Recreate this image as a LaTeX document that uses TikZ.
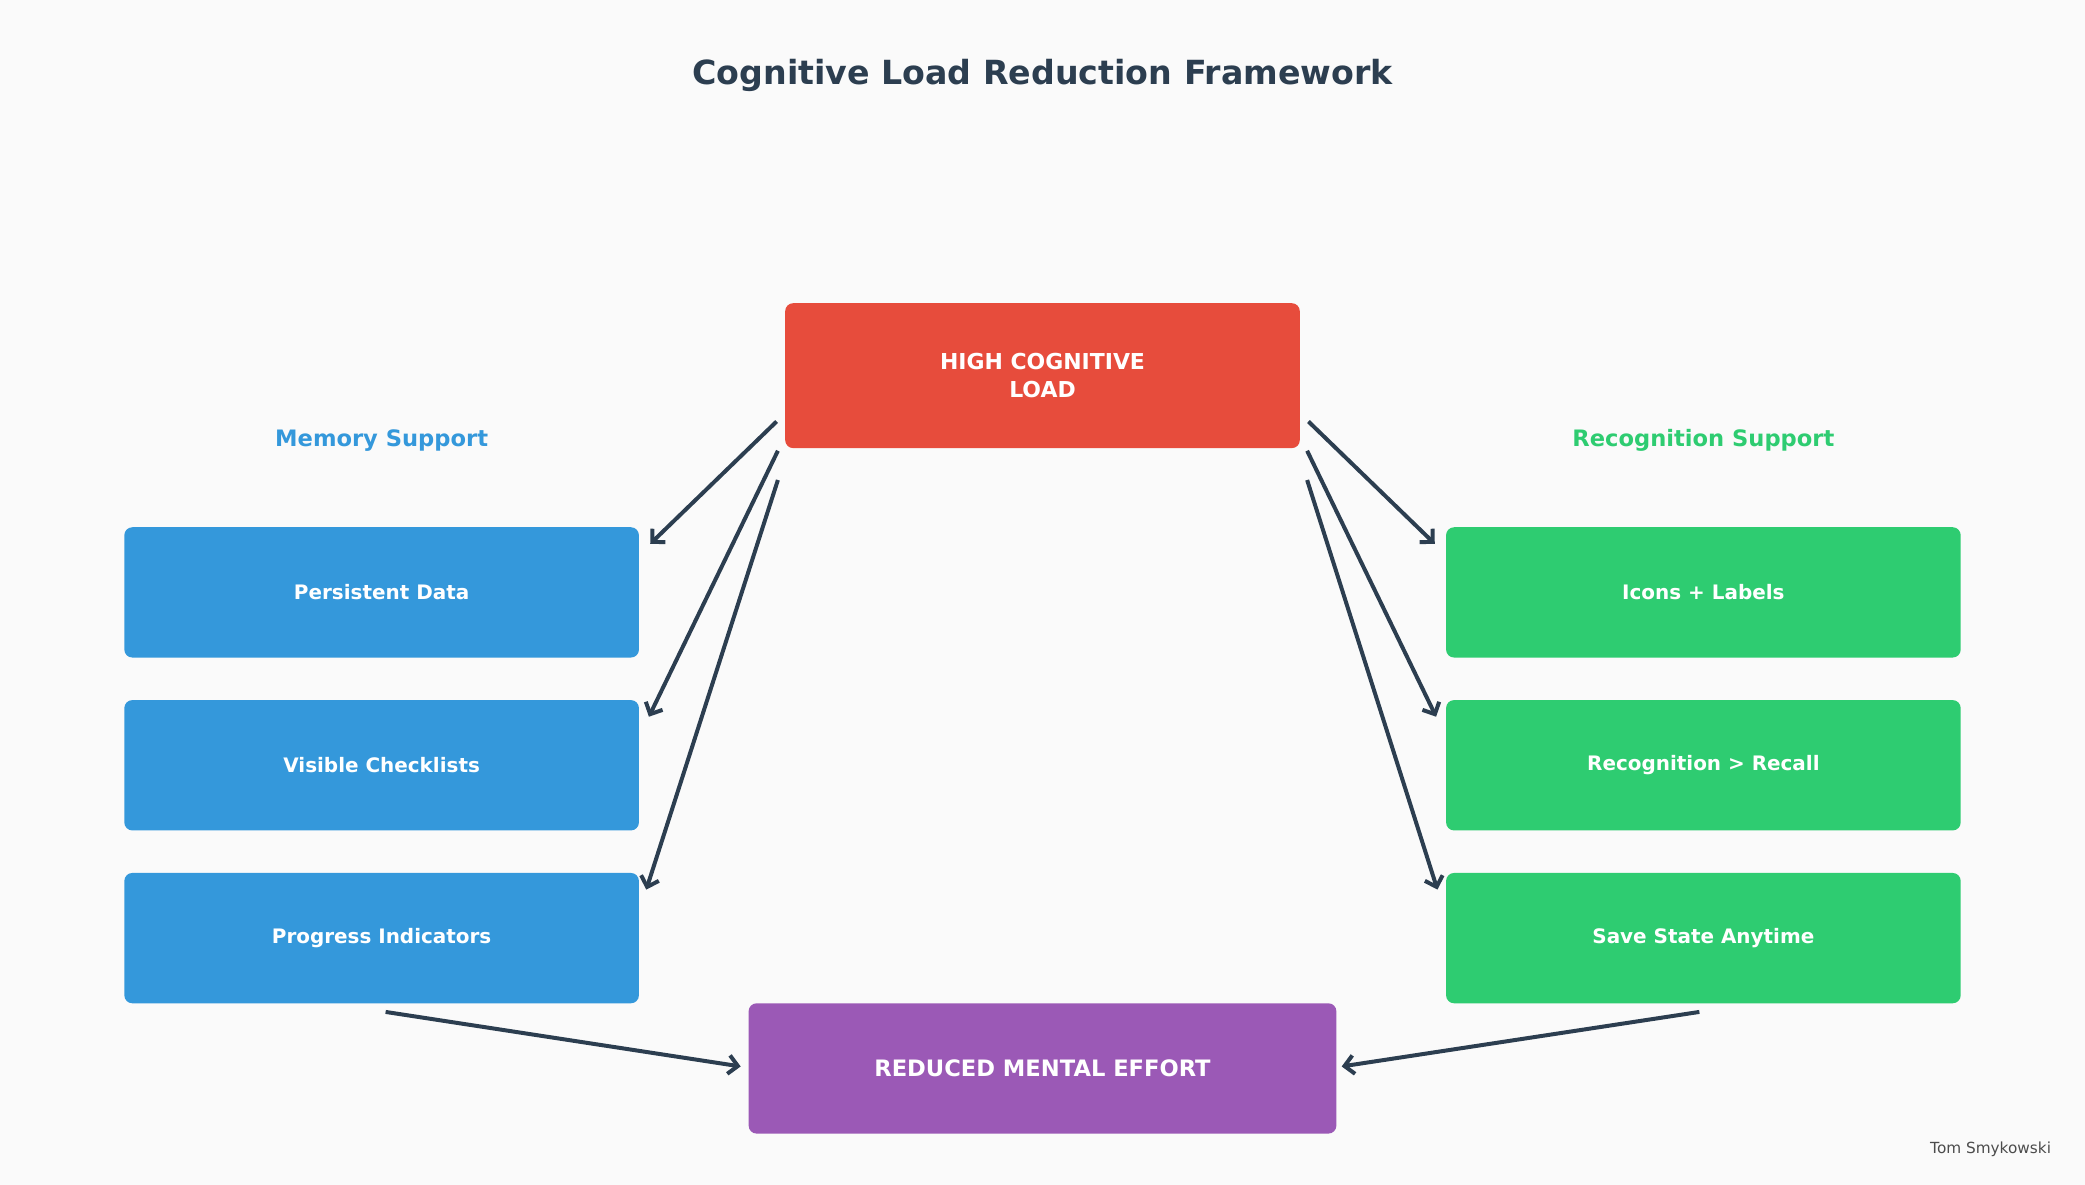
\documentclass[tikz,border=0pt]{standalone}
\usepackage{fontspec}
\setmainfont{DejaVu Sans}
\usetikzlibrary{arrows.meta}
\definecolor{bg}{HTML}{FAFAFA}
\definecolor{dark}{HTML}{2C3E50}
\definecolor{red}{HTML}{E74C3C}
\definecolor{blue}{HTML}{3498DB}
\definecolor{green}{HTML}{2ECC71}
\definecolor{purple}{HTML}{9B59B6}
\begin{document}
\begin{tikzpicture}[x=1pt,y=-1pt,
  box/.style={rounded corners=6pt,draw=none,minimum width=387pt,minimum height=98pt,text=white,font=\bfseries\fontsize{15}{18}\selectfont,align=center},
  arr/.style={draw=dark,line width=3pt,-{Straight Barb[length=7pt,width=14pt,line width=3pt]}},
  head/.style={font=\bfseries\fontsize{17}{20}\selectfont}]
\fill[bg] (0,0) rectangle (1568,891);
\useasboundingbox (0,0) rectangle (1568,891);
\node[font=\bfseries\fontsize{25}{30}\selectfont,text=dark] (title) at (784,57) {Cognitive Load Reduction Framework};
\node[box,fill=red,minimum height=109pt,font=\bfseries\fontsize{16.5}{21}\selectfont] (high) at (784,282.5) {HIGH COGNITIVE\\LOAD};
\node[head,text=blue] (mem) at (287,331) {Memory Support};
\node[head,text=green] (rec) at (1281,331) {Recognition Support};
\node[box,fill=blue] (b1) at (287,445.5) {Persistent Data};
\node[box,fill=blue] (b2) at (287,575.5) {Visible Checklists};
\node[box,fill=blue] (b3) at (287,705.5) {Progress Indicators};
\node[box,fill=green] (g1) at (1281,445.5) {Icons + Labels};
\node[box,fill=green] (g2) at (1281,575.5) {Recognition > Recall};
\node[box,fill=green] (g3) at (1281,705.5) {Save State Anytime};
\node[box,fill=purple,minimum width=442pt,font=\bfseries\fontsize{17}{20}\selectfont] (low) at (784,803.5) {REDUCED MENTAL EFFORT};
\node[font=\fontsize{11.5}{14}\selectfont,text=black!70] (author) at (1497,864) {Tom Smykowski};
\coordinate (l1) at (584,317); \coordinate (l2) at (585,339); \coordinate (l3) at (585,361);
\coordinate (r1) at (984,317); \coordinate (r2) at (983,339); \coordinate (r3) at (983,361);
\coordinate (tb1) at (489,409); \coordinate (tb2) at (488,539); \coordinate (tb3) at (486,669);
\coordinate (tg1) at (1079,409); \coordinate (tg2) at (1080,539); \coordinate (tg3) at (1081,669);
\coordinate (bs) at (290,761); \coordinate (gs) at (1278,761);
\coordinate (pl) at (557,802); \coordinate (pr) at (1009,802);
\draw[arr] (l1) -- (tb1); \draw[arr] (l2) -- (tb2); \draw[arr] (l3) -- (tb3);
\draw[arr] (r1) -- (tg1); \draw[arr] (r2) -- (tg2); \draw[arr] (r3) -- (tg3);
\draw[arr] (bs) -- (pl); \draw[arr] (gs) -- (pr);
\end{tikzpicture}
\end{document}
